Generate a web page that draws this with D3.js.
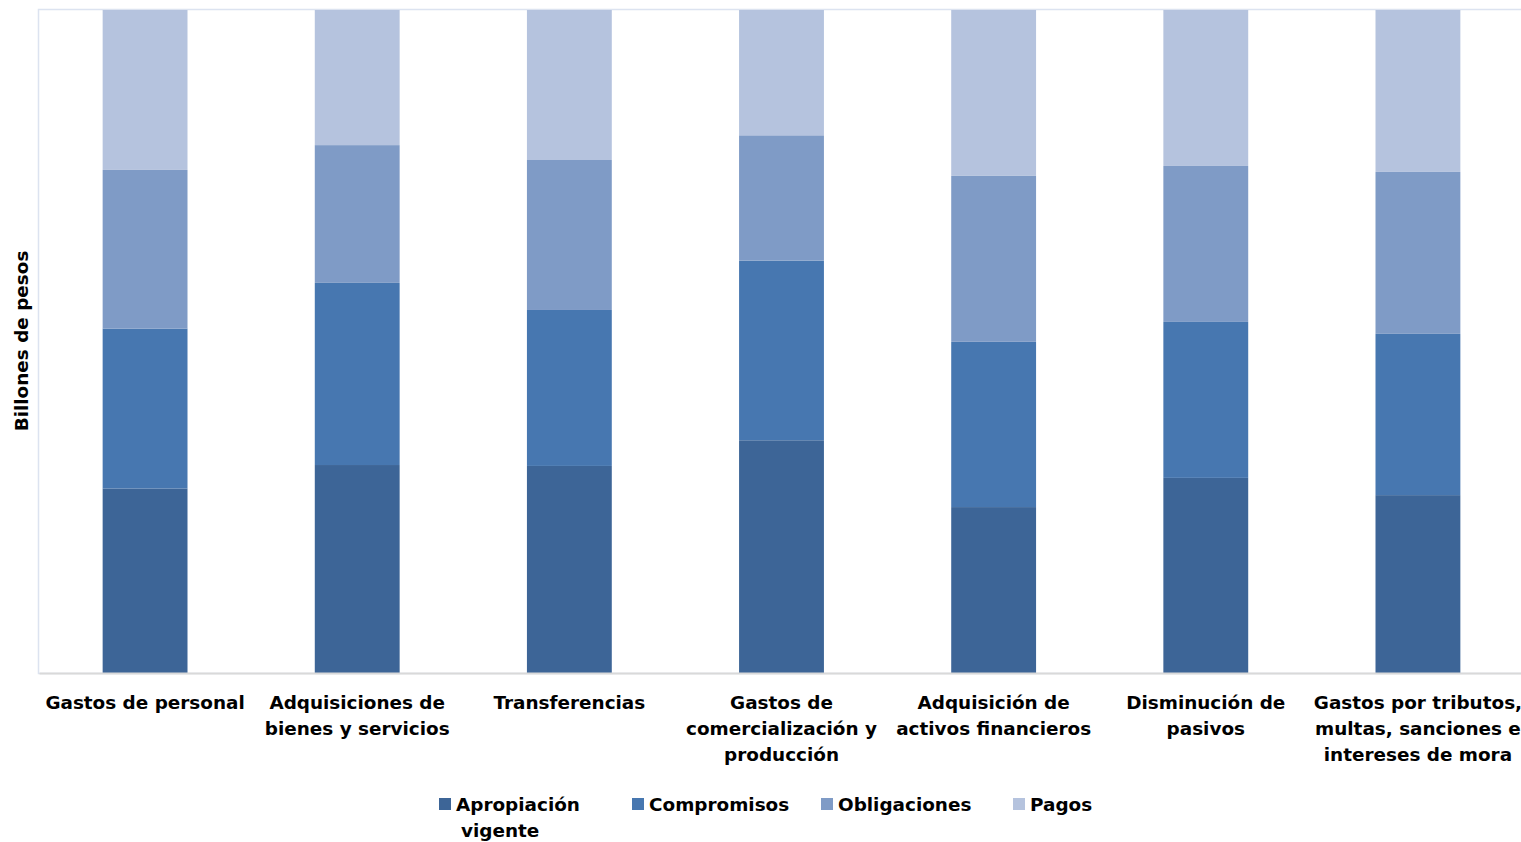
<!DOCTYPE html>
<html>
<head>
<meta charset="utf-8">
<script src="https://cdn.jsdelivr.net/npm/d3@7"></script>
<style>
  html, body { margin: 0; padding: 0; background: #fff; }
  svg { display: block; font-family: "DejaVu Sans", sans-serif; font-weight: bold; }
</style>
</head>
<body>
<svg id="chart" width="1521" height="842"></svg>
<script>
const categories = [
  ["Gastos de personal"],
  ["Adquisiciones de", "bienes y servicios"],
  ["Transferencias"],
  ["Gastos de", "comercialización y", "producción"],
  ["Adquisición de", "activos financieros"],
  ["Disminución de", "pasivos"],
  ["Gastos por tributos,", "multas, sanciones e", "intereses de mora"]
];
const seriesNames = ["Apropiación vigente", "Compromisos", "Obligaciones", "Pagos"];
const apropiacion  = [27.8, 31.4, 31.2, 35.1, 25.0, 29.4, 26.8];
const compromisos  = [24.1, 27.5, 23.5, 27.1, 24.9, 23.5, 24.3];
const obligaciones = [23.9, 20.8, 22.6, 18.9, 25.0, 23.5, 24.4];
const pagos        = [24.1, 20.4, 22.6, 18.9, 25.0, 23.5, 24.4];
const colors = ["#3d6597", "#4777b0", "#7f9bc6", "#b5c3de"];
const yLabel = "Billones de pesos";

const svg = d3.select("#chart");
const margin = {left: 39, top: 10, right: -3, bottom: 169};
const W = 1521, H = 842;
const x0 = margin.left, x1 = W - margin.right, y0 = margin.top, y1 = H - margin.bottom;
const FS = 18.4;

const keys = ["a", "c", "o", "p"];
const data = categories.map((c, i) => ({cat: c.join(" "), a: apropiacion[i], c: compromisos[i], o: obligaciones[i], p: pagos[i]}));
const stack = d3.stack().keys(keys).offset(d3.stackOffsetExpand);
const series = stack(data);

const x = d3.scaleBand().domain(data.map(d => d.cat)).range([x0, x1]).paddingInner(0.6).paddingOuter(0.3);
const y = d3.scaleLinear().domain([0, 1]).range([y1, y0]);

// plot area border
svg.append("rect").attr("x", x0 - 0.5).attr("y", y0 - 0.5).attr("width", x1 - x0 + 1).attr("height", y1 - y0 + 1)
  .attr("fill", "none").attr("stroke", "#dce3f0").attr("stroke-width", 1.5);

svg.append("g").selectAll("g").data(series).join("g")
  .attr("fill", (d, i) => colors[i])
  .selectAll("rect").data(d => d).join("rect")
  .attr("x", d => x(d.data.cat))
  .attr("width", x.bandwidth())
  .attr("y", d => y(d[1]))
  .attr("height", d => y(d[0]) - y(d[1]));

// x axis
const xAxis = svg.append("g").attr("transform", `translate(0,${y1})`)
  .call(d3.axisBottom(x).tickSize(0).tickFormat(""));
xAxis.select(".domain").attr("stroke", "#d9d9d9").attr("stroke-width", 2);

const labels = svg.append("g");
categories.forEach((lines, i) => {
  const cx = x(data[i].cat) + x.bandwidth() / 2;
  const t = labels.append("text")
    .attr("x", cx)
    .attr("y", 709)
    .attr("text-anchor", "middle")
    .attr("font-size", FS)
    .attr("fill", "#000");
  lines.forEach((l, j) => t.append("tspan").attr("x", cx).attr("dy", j === 0 ? 0 : 26).text(l));
});

// y label
svg.append("text")
  .attr("transform", `translate(28,341) rotate(-90)`)
  .attr("text-anchor", "middle")
  .attr("font-size", FS)
  .attr("fill", "#000")
  .text(yLabel);

// legend
const legendPos = [439, 632, 821, 1013];
const leg = svg.append("g");
seriesNames.forEach((n, i) => {
  const g = leg.append("g").attr("transform", `translate(${legendPos[i]},798)`);
  g.append("rect").attr("width", 12).attr("height", 12).attr("fill", colors[i]);
  const t = g.append("text").attr("x", 17).attr("y", 13).attr("font-size", FS).attr("fill", "#000");
  if (i === 0) {
    t.append("tspan").attr("x", 17).text("Apropiación");
    t.append("tspan").attr("x", 22).attr("dy", 26).text("vigente");
  } else {
    t.text(n);
  }
});
</script>
</body>
</html>
